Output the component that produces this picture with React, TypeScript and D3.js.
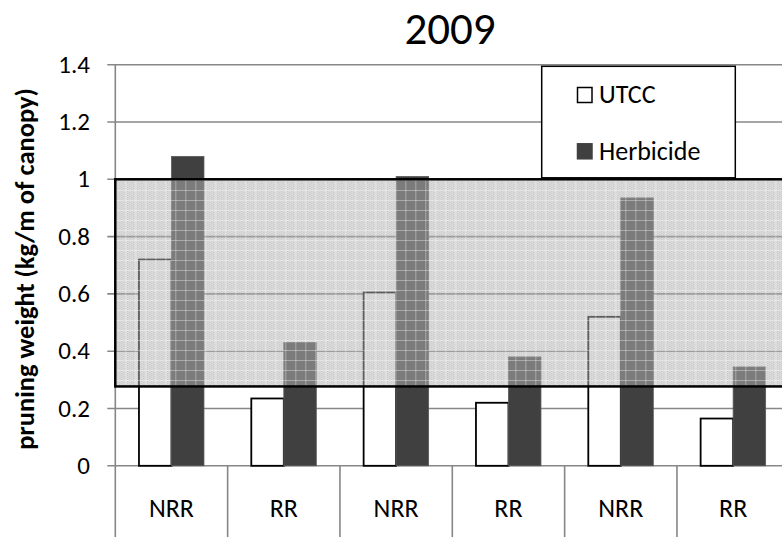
import React, { useEffect, useRef } from "react";
import * as d3 from "d3";

// chart data
const categories = ["NRR", "RR", "NRR", "RR", "NRR", "RR"];
const seriesNames = ["UTCC", "Herbicide"];
const utccValues = [0.72, 0.235, 0.605, 0.22, 0.52, 0.165];
const herbicideValues = [1.08, 0.43, 1.01, 0.38, 0.935, 0.345];
const yTicks = [0, 0.2, 0.4, 0.6, 0.8, 1, 1.2, 1.4];
const bandLimits = [0.277, 1.0];
const chartTitle = "2009";
const yLabel = "pruning weight (kg/m of canopy)";

const FONT = "Calibri, Carlito, 'Open Sans', sans-serif";

const App = () => {
  const ref = useRef<SVGSVGElement | null>(null);

  useEffect(() => {
    const W = 782;
    const H = 537;
    const plot = { left: 115.3, right: 789.3, top: 64.7, bottom: 465.8 };

    const svg = d3.select(ref.current);
    svg.selectAll("*").remove();
    svg.attr("width", W).attr("height", H);

    const x = d3
      .scaleBand<number>()
      .domain(categories.map((_, i) => i))
      .range([plot.left, plot.right])
      .padding(0);

    const xInner = d3
      .scaleBand<string>()
      .domain(seriesNames)
      .range([0, x.bandwidth()])
      .paddingInner(0)
      .paddingOuter(0.728);

    const y = d3.scaleLinear().domain([0, 1.4]).range([plot.bottom, plot.top]);

    // pattern for the shaded band
    const defs = svg.append("defs");
    const pat = defs
      .append("pattern")
      .attr("id", "bandPattern")
      .attr("patternUnits", "userSpaceOnUse")
      .attr("x", plot.left)
      .attr("y", 0)
      .attr("width", 10)
      .attr("height", 10);
    pat
      .append("rect")
      .attr("width", 10)
      .attr("height", 10)
      .attr("fill", "rgba(184,184,184,0.5)");
    for (let i = 0; i < 10; i += 2) {
      for (let j = (i / 2) % 2; j < 10; j += 2) {
        pat
          .append("rect")
          .attr("x", i)
          .attr("y", j)
          .attr("width", 1)
          .attr("height", 1)
          .attr("fill", "rgba(110,110,110,0.2)");
      }
    }
    pat
      .append("rect")
      .attr("x", 0)
      .attr("y", 0)
      .attr("width", 10)
      .attr("height", 1)
      .attr("fill", "rgba(255,255,255,0.35)");
    pat
      .append("rect")
      .attr("x", 0)
      .attr("y", 0)
      .attr("width", 1)
      .attr("height", 10)
      .attr("fill", "rgba(255,255,255,0.35)");

    // gridlines
    svg
      .append("g")
      .selectAll("line")
      .data(yTicks)
      .enter()
      .append("line")
      .attr("x1", plot.left - 8)
      .attr("x2", W)
      .attr("y1", (d) => y(d))
      .attr("y2", (d) => y(d))
      .style("stroke", "#878787")
      .style("stroke-width", 1.6);

    // y tick labels
    svg
      .append("g")
      .selectAll("text")
      .data(yTicks)
      .enter()
      .append("text")
      .attr("x", 90)
      .attr("y", (d) => y(d) + 8)
      .attr("text-anchor", "end")
      .style("font-family", FONT)
      .style("font-size", "25px")
      .text((d) => d3.format("~g")(d));

    // y axis line
    svg
      .append("line")
      .attr("x1", plot.left)
      .attr("x2", plot.left)
      .attr("y1", plot.top)
      .attr("y2", H)
      .style("stroke", "#878787")
      .style("stroke-width", 1.6);

    // category dividers below the axis
    svg
      .append("g")
      .selectAll("line")
      .data(categories.map((_, i) => i).slice(1))
      .enter()
      .append("line")
      .attr("x1", (i) => x(i)!)
      .attr("x2", (i) => x(i)!)
      .attr("y1", plot.bottom)
      .attr("y2", H)
      .style("stroke", "#878787")
      .style("stroke-width", 1.6);

    // category labels
    svg
      .append("g")
      .selectAll("text")
      .data(categories)
      .enter()
      .append("text")
      .attr("x", (_, i) => x(i)! + x.bandwidth() / 2)
      .attr("y", 516.5)
      .attr("text-anchor", "middle")
      .style("font-family", FONT)
      .style("font-size", "26px")
      .text((d) => d);

    // bars
    const groups = svg
      .append("g")
      .selectAll("g")
      .data(categories.map((_, i) => i))
      .enter()
      .append("g")
      .attr("transform", (i) => `translate(${x(i)},0)`);

    groups
      .append("rect")
      .attr("x", xInner("UTCC")!)
      .attr("width", xInner.bandwidth())
      .attr("y", (i) => y(utccValues[i]))
      .attr("height", (i) => plot.bottom - y(utccValues[i]))
      .style("fill", "#ffffff")
      .style("stroke", "#000")
      .style("stroke-width", 1.8);

    groups
      .append("rect")
      .attr("x", xInner("Herbicide")!)
      .attr("width", xInner.bandwidth())
      .attr("y", (i) => y(herbicideValues[i]))
      .attr("height", (i) => plot.bottom - y(herbicideValues[i]))
      .style("fill", "#404040")
      .style("stroke", "#5a5a5a")
      .style("stroke-width", 0.8);

    // shaded band
    svg
      .append("rect")
      .attr("x", plot.left)
      .attr("y", y(bandLimits[1]))
      .attr("width", plot.right - plot.left)
      .attr("height", y(bandLimits[0]) - y(bandLimits[1]))
      .style("fill", "url(#bandPattern)")
      .style("stroke", "#000")
      .style("stroke-width", 2.5);

    // legend
    const legend = svg.append("g");
    legend
      .append("rect")
      .attr("x", 541.7)
      .attr("y", 66.3)
      .attr("width", 193.6)
      .attr("height", 111.5)
      .style("fill", "#fff")
      .style("stroke", "#000")
      .style("stroke-width", 1.5);

    const legendFill = ["#ffffff", "#404040"];
    const legendY = [95, 151.3];
    seriesNames.forEach((name, i) => {
      legend
        .append("rect")
        .attr("x", 577.5)
        .attr("y", legendY[i] - 7.5)
        .attr("width", 14.5)
        .attr("height", 15)
        .style("fill", legendFill[i])
        .style("stroke", i === 0 ? "#000" : "#404040")
        .style("stroke-width", 1.5);
      legend
        .append("text")
        .attr("x", 599)
        .attr("y", legendY[i] + 8.3)
        .style("font-family", FONT)
        .style("font-size", "26px")
        .text(name);
    });

    // title
    svg
      .append("text")
      .attr("x", 450)
      .attr("y", 43.5)
      .attr("text-anchor", "middle")
      .style("font-family", FONT)
      .style("font-size", "45px")
      .text(chartTitle);

    // y axis title
    svg
      .append("text")
      .attr("transform", `translate(34,269) rotate(-90)`)
      .attr("text-anchor", "middle")
      .style("font-family", FONT)
      .style("font-size", "26.5px")
      .style("font-weight", "bold")
      .text(yLabel);
  }, []);

  return (
    <div style={{ position: "absolute", left: 0, top: 0 }}>
      <svg ref={ref} width={782} height={537} style={{ display: "block" }} />
    </div>
  );
};

export default App;
